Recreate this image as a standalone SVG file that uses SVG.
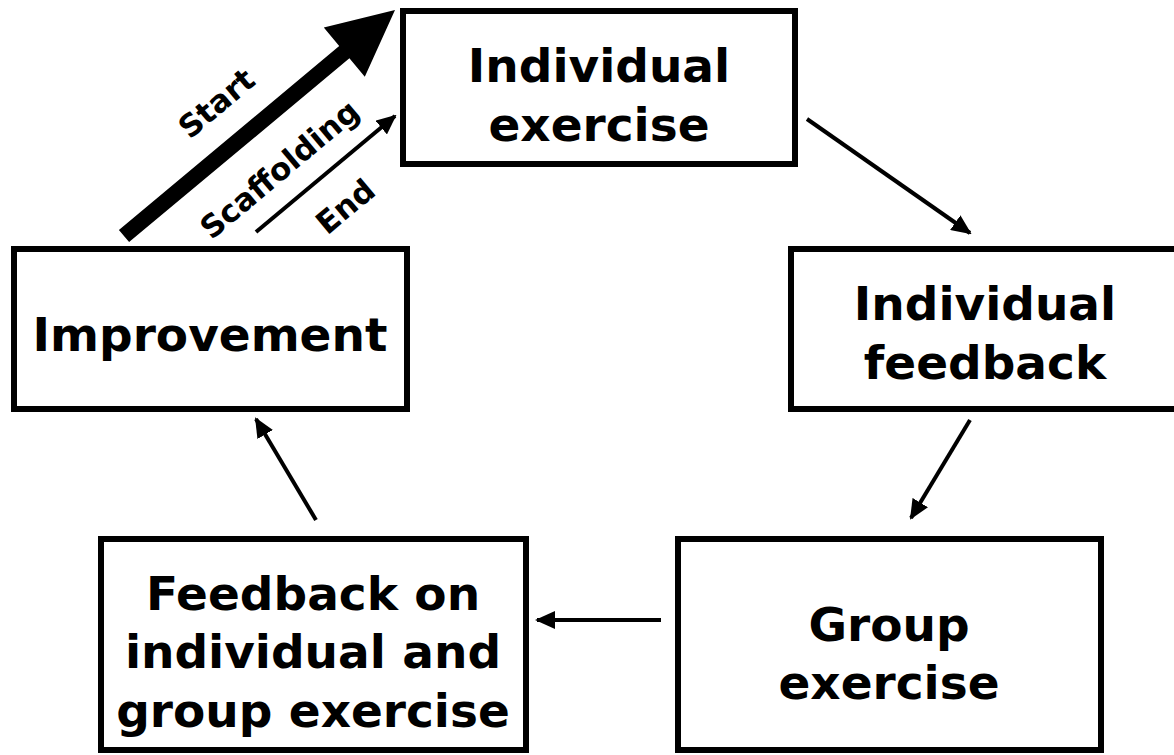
<svg xmlns="http://www.w3.org/2000/svg" width="1174" height="755" viewBox="0 0 1174 755">
<defs>
<style>
.box{fill:#fff;stroke:#000;stroke-width:6}
.t{font-family:"DejaVu Sans","Open Sans","Liberation Sans",sans-serif;font-weight:700;font-size:47px;text-anchor:middle;fill:#000}
.s{font-family:"DejaVu Sans","Open Sans","Liberation Sans",sans-serif;font-weight:700;font-size:31px;text-anchor:middle;fill:#000}
.c{stroke:#000;stroke-width:4;fill:none}
</style>
<marker id="ah" markerUnits="userSpaceOnUse" markerWidth="20" markerHeight="18" viewBox="0 0 20 18" refX="18" refY="9" orient="auto">
<path d="M0,0 L20,9 L0,18 Z" fill="#000"/>
</marker>
</defs>
<rect width="1174" height="755" fill="#fff"/>
<g id="n1"><rect class="box" x="403" y="11" width="392" height="153"/>
<text class="t" x="599" y="82">Individual</text><text class="t" x="599" y="141">exercise</text></g>
<g id="n2"><rect class="box" x="791" y="249" width="390" height="160"/>
<text class="t" x="985" y="320">Individual</text><text class="t" x="985" y="379">feedback</text></g>
<g id="n3"><rect class="box" x="14" y="249" width="393" height="160"/>
<text class="t" x="210" y="351">Improvement</text></g>
<g id="n4"><rect class="box" x="101" y="539" width="425" height="211"/>
<text class="t" x="313" y="610">Feedback on</text><text class="t" x="313" y="668">individual and</text><text class="t" x="313" y="727">group exercise</text></g>
<g id="n5"><rect class="box" x="678" y="539" width="423" height="211"/>
<text class="t" x="889" y="641">Group</text><text class="t" x="889" y="699">exercise</text></g>
<g id="connectors">
<line class="c" x1="807" y1="119" x2="970" y2="233" marker-end="url(#ah)"/>
<line class="c" x1="970" y1="420" x2="911" y2="518" marker-end="url(#ah)"/>
<line class="c" x1="661" y1="620" x2="537" y2="620" marker-end="url(#ah)"/>
<line class="c" x1="316" y1="520" x2="256" y2="419" marker-end="url(#ah)"/>
<line class="c" x1="256" y1="232" x2="395" y2="116" marker-end="url(#ah)"/>
<polygon points="118.9,229.9 339.2,46.1 323.8,27.6 395,10 364.8,76.8 349.4,58.3 129.1,242.1" fill="#000"/>
<text class="s" transform="translate(217,104) rotate(-40)" y="10">Start</text>
<text class="s" transform="translate(280,170) rotate(-40)" y="10">Scaffolding</text>
<text class="s" transform="translate(346,207) rotate(-40)" y="10">End</text>
</g>
</svg>
